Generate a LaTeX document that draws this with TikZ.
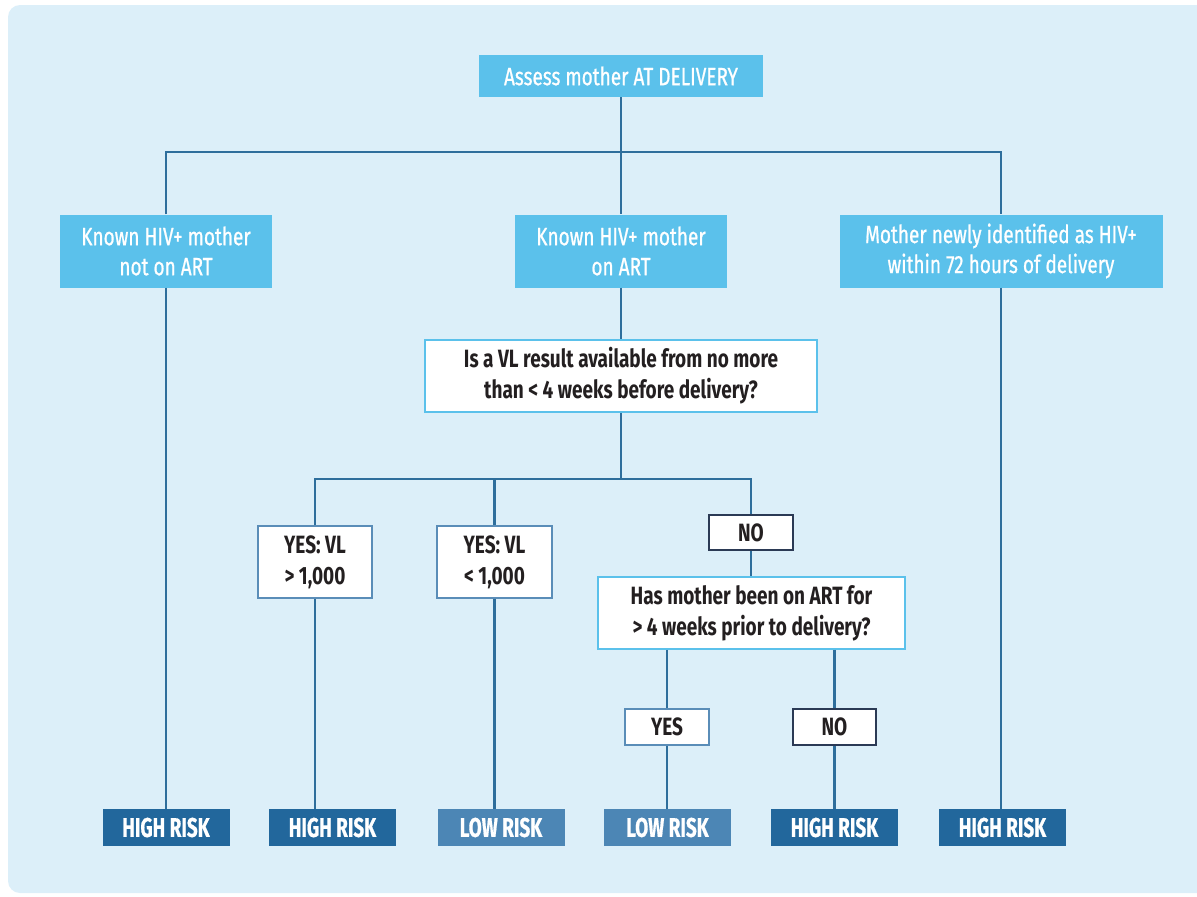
\documentclass[tikz,border=0pt]{standalone}
\usepackage{fontspec}
\setmainfont{Fira Sans}[FakeStretch=0.76]
\newfontfamily\bluefont{Fira Sans}[FakeStretch=0.76, FakeBold=0.8]
\newfontfamily\riskfont{Fira Sans}[FakeStretch=0.7, FakeBold=0.6]
\definecolor{bgc}{HTML}{DCEFF9}
\definecolor{cyanbox}{HTML}{5BC1EB}
\definecolor{highc}{HTML}{22679C}
\definecolor{lowc}{HTML}{4C86B5}
\definecolor{linec}{HTML}{2E6E9C}
\definecolor{txtc}{HTML}{231F20}
\definecolor{yesb}{HTML}{5A8DB8}
\definecolor{nob}{HTML}{2B3A55}
\tikzset{
  bluebox/.style={fill=cyanbox, text=white, inner sep=0pt, align=center,
    font=\bluefont\fontsize{25}{30}\selectfont},
  qbox/.style={fill=white, draw=cyanbox, line width=1.8pt, text=txtc, inner sep=0pt, align=center,
    font=\bfseries\fontsize{25}{31}\selectfont},
  ybox/.style={fill=white, draw=yesb, line width=1.6pt, text=txtc, inner sep=0pt, align=center,
    font=\bfseries\fontsize{25}{31}\selectfont},
  nbox/.style={fill=white, draw=nob, line width=1.6pt, text=txtc, inner sep=0pt, align=center,
    font=\bfseries\fontsize{25}{31}\selectfont},
  highbox/.style={fill=highc, text=white, inner sep=0pt, minimum width=127pt, minimum height=37pt,
    font=\riskfont\bfseries\fontsize{27}{30}\selectfont},
  lowbox/.style={fill=lowc, text=white, inner sep=0pt, minimum width=127pt, minimum height=37pt,
    font=\riskfont\bfseries\fontsize{27}{30}\selectfont},
  conn/.style={draw=linec, line width=2.5pt},
}
\begin{document}
\begin{tikzpicture}[x=1pt,y=-1pt]
\useasboundingbox (0,0) rectangle (1197,897);
\clip (0,0) rectangle (1197,897);
\fill[bgc, rounded corners=12pt] (8,5) rectangle (1215,893);

% nodes
\node[bluebox, minimum width=284pt, minimum height=42pt] (top) at (621,76) {Assess mother AT DELIVERY};
\node[bluebox, minimum width=212pt, minimum height=73pt] (left) at (166,251) {Known HIV+ mother\\not on ART};
\node[bluebox, minimum width=212pt, minimum height=73pt] (mid) at (621,251) {Known HIV+ mother\\on ART};
\node[bluebox, minimum width=323pt, minimum height=73pt] (right) at (1001,251) {Mother newly identified as HIV+\\within 72 hours of delivery};
\node[qbox, minimum width=392pt, minimum height=72pt] (vl) at (621,376) {Is a VL result available from no more\\than < 4 weeks before delivery?};
\node[ybox, minimum width=114pt, minimum height=72pt] (yes1) at (315,562) {YES: VL\\> 1,000};
\node[ybox, minimum width=115pt, minimum height=72pt] (yes2) at (494.5,562) {YES: VL\\< 1,000};
\node[nbox, minimum width=84pt, minimum height=35pt] (no1) at (751,532.5) {NO};
\node[qbox, minimum width=307pt, minimum height=72pt] (has) at (751.5,613) {Has mother been on ART for\\> 4 weeks prior to delivery?};
\node[ybox, minimum width=84pt, minimum height=36pt] (yes3) at (667,727) {YES};
\node[nbox, minimum width=83pt, minimum height=36pt] (no3) at (834.5,727) {NO};

\node[highbox] (r1) at (166,827.5) {HIGH RISK};
\node[highbox] (r2) at (332.5,827.5) {HIGH RISK};
\node[lowbox] (r3) at (501,827.5) {LOW RISK};
\node[lowbox] (r4) at (667.5,827.5) {LOW RISK};
\node[highbox] (r5) at (834.5,827.5) {HIGH RISK};
\node[highbox] (r6) at (1002.5,827.5) {HIGH RISK};

\coordinate (j1) at (621,152);
\coordinate (j2) at (621,479);

% connectors
\draw[conn] (top.south) -- (mid.north);
\draw[conn] (left.north) |- (j1) -| (right.north);
\draw[conn] (left.south) -- (left.south |- r1.north);
\draw[conn] (right.south) -- (right.south |- r6.north);
\draw[conn] (mid.south) -- (vl.north);
\draw[conn] (vl.south) -- (j2);
\draw[conn] (yes1.north) |- (j2) -| (no1.north);
\draw[conn] (yes2.north) -- (yes2.north |- j2);
\draw[conn] (no1.south) -- (no1.south |- has.north);
\draw[conn] (yes3.north |- has.south) -- (yes3.north);
\draw[conn] (no3.north |- has.south) -- (no3.north);
\draw[conn] (yes1.south) -- (yes1.south |- r2.north);
\draw[conn] (yes2.south) -- (yes2.south |- r3.north);
\draw[conn] (yes3.south) -- (yes3.south |- r4.north);
\draw[conn] (no3.south) -- (no3.south |- r5.north);
\end{tikzpicture}
\end{document}
